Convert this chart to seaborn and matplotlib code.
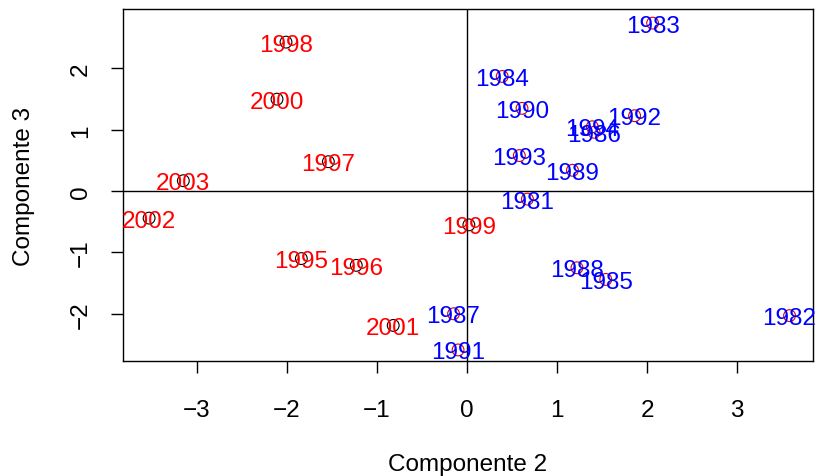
import matplotlib
matplotlib.use("Agg")
import matplotlib.pyplot as plt
import seaborn as sns
import pandas as pd

# Component scores per year
years = ["1981", "1982", "1983", "1984", "1985", "1986", "1987", "1988",
         "1989", "1990", "1991", "1992", "1993", "1994",
         "1995", "1996", "1997", "1998", "1999", "2000", "2001", "2002", "2003"]
comp2 = [0.67, 3.58, 2.06, 0.39, 1.54, 1.41, -0.15, 1.22,
         1.17, 0.61, -0.10, 1.86, 0.58, 1.39,
         -1.84, -1.23, -1.54, -2.01, 0.02, -2.11, -0.82, -3.53, -3.15]
comp3 = [-0.13, -2.03, 2.74, 1.87, -1.44, 0.96, -2.00, -1.25,
         0.34, 1.35, -2.59, 1.23, 0.58, 1.05,
         -1.10, -1.21, 0.48, 2.43, -0.55, 1.50, -2.19, -0.44, 0.17]
period = ["A"] * 14 + ["B"] * 9

marker_colors = {"A": "#E00000", "B": "#000000"}
label_colors = {"A": "#0000FF", "B": "#FF0000"}

xticks = [-3, -2, -1, 0, 1, 2, 3]
yticks = [-2, -1, 0, 1, 2]

df = pd.DataFrame({"year": years, "c2": comp2, "c3": comp3, "period": period})

sns.set_style("ticks")
plt.rcParams["font.family"] = ["Liberation Sans", "DejaVu Sans"]
plt.rcParams["font.size"] = 17.5
plt.rcParams["axes.labelcolor"] = "black"
plt.rcParams["text.color"] = "black"

fig = plt.figure(figsize=(8.15, 4.77), dpi=100)
ax = fig.add_axes([0.1509, 0.2411, 0.8466, 0.7379])

sns.scatterplot(data=df, x="c2", y="c3", hue="period", palette=marker_colors,
                s=72, linewidth=0.8, legend=False, ax=ax, zorder=3)
pts = ax.collections[0]
pts.set_edgecolors(pts.get_facecolors())
pts.set_facecolors("none")

for _, r in df.iterrows():
    ax.text(r["c2"], r["c3"], r["year"], color=label_colors[r["period"]],
            ha="center", va="center_baseline", fontsize=17.5, zorder=4)

ax.axhline(0, color="black", lw=1.0, zorder=1)
ax.axvline(0, color="black", lw=1.0, zorder=1)

ax.set_xlim(-3.82, 3.84)
ax.set_ylim(-2.77, 2.97)
ax.set_xticks(xticks)
ax.set_xticklabels(["\u2212" + str(-v) if v < 0 else str(v) for v in xticks])
ax.set_yticks(yticks)
ax.set_yticklabels(["\u2212" + str(-v) if v < 0 else str(v) for v in yticks],
                   rotation=90, va="center")
ax.tick_params(axis="both", direction="out", length=8.5, width=1.0,
               color="black", labelsize=17.5, labelcolor="black")
ax.tick_params(axis="x", pad=19)
ax.tick_params(axis="y", pad=14)
for s in ax.spines.values():
    s.set_visible(True)
    s.set_color("black")
    s.set_linewidth(1.0)

ax.set_xlabel("Componente 2", fontsize=17.5, labelpad=23, color="black")
ax.set_ylabel("Componente 3", fontsize=17.5, labelpad=25, color="black")

fig.savefig("out.png", dpi=100)
